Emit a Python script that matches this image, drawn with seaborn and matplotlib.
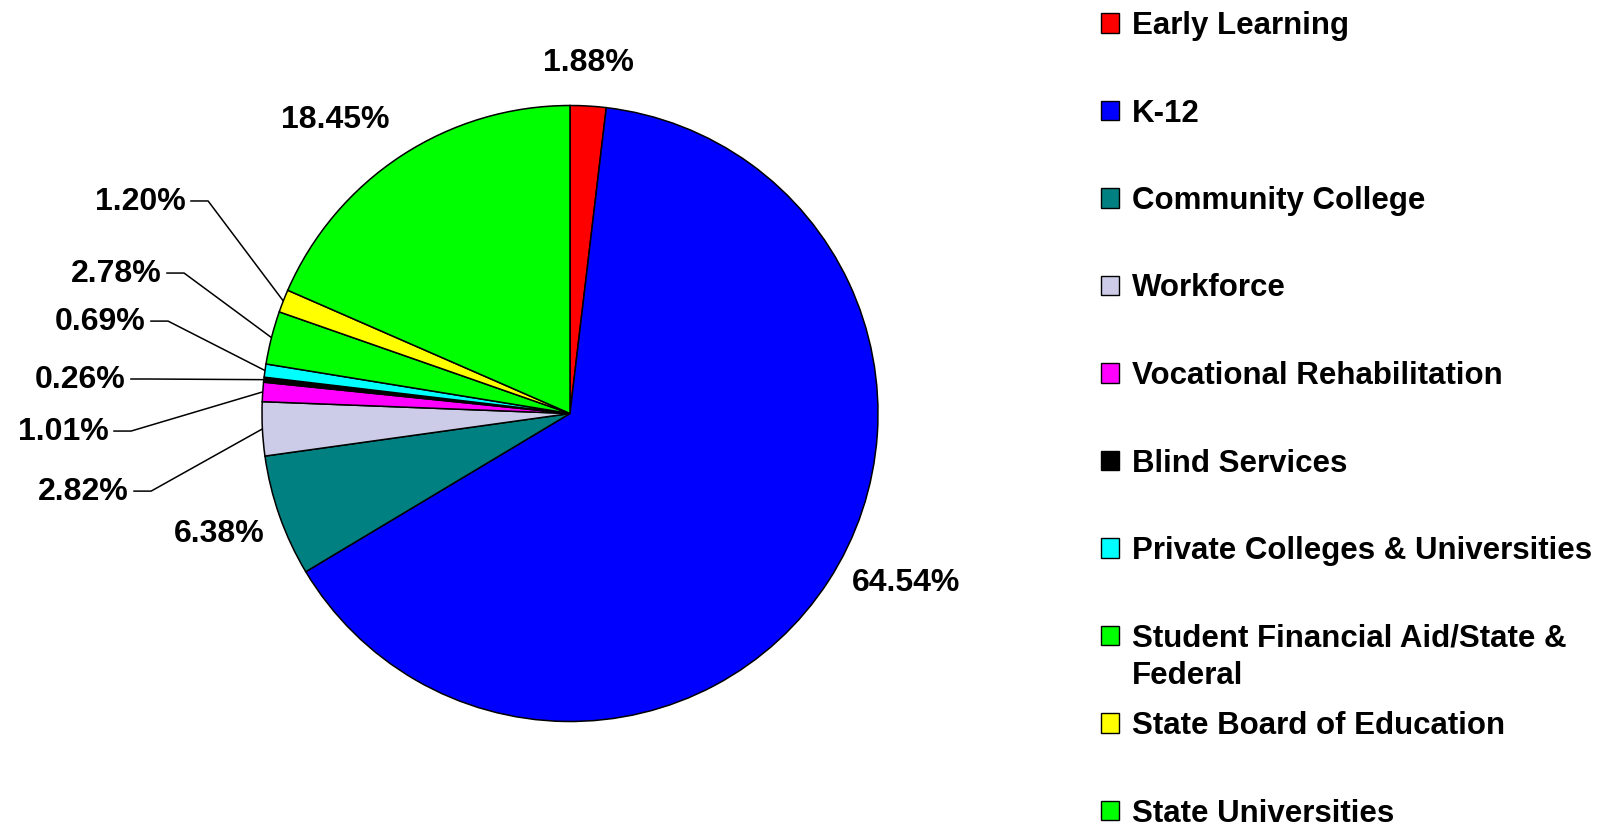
import matplotlib
matplotlib.use("Agg")
import matplotlib.pyplot as plt
import seaborn as sns
import numpy as np
from matplotlib.patches import Patch

sns.set_theme(style="white")
plt.rcParams['font.family'] = ['Liberation Sans', 'DejaVu Sans']

# ---- data ----
categories = ["Early Learning", "K-12", "Community College", "Workforce",
              "Vocational Rehabilitation", "Blind Services",
              "Private Colleges & Universities",
              "Student Financial Aid/State & Federal",
              "State Board of Education", "State Universities"]
values = [1.88, 64.54, 6.38, 2.82, 1.01, 0.26, 0.69, 2.78, 1.20, 18.45]
colors = ["#FF0000", "#0000FF", "#008080", "#CCCCE8", "#FF00FF",
          "#000000", "#00FFFF", "#00FF00", "#FFFF00", "#00FF00"]

# ---- style: label placement (data units, radius = 1) ----
plain_pos = {0: (0.060, 1.138), 1: (1.091, -0.550), 2: (-1.140, -0.391), 9: (-0.763, 0.953)}
elbow_pos = {8: (-1.175, 0.690), 7: (-1.253, 0.456), 6: (-1.305, 0.300),
             5: (-1.370, 0.112), 4: (-1.425, -0.057), 3: (-1.360, -0.252)}

W, H = 1600, 824
cx, cy, R = 570.0, 413.5, 308.0

fig = plt.figure(figsize=(W / 100, H / 100), dpi=100)
ax = fig.add_axes([0, 0, 1, 1])
wedges, _ = ax.pie(values, colors=colors, startangle=90, counterclock=False,
                   radius=1.0, wedgeprops=dict(edgecolor="black", linewidth=1.1))
ax.set_xlim(-cx / R, (W - cx) / R)
ax.set_ylim(-(H - cy) / R, cy / R)
ax.set_aspect("equal")
ax.axis("off")

lab_fs = 23
for i, v in enumerate(values):
    txt = f"{v:.2f}%"
    if i in plain_pos:
        x, y = plain_pos[i]
        ax.text(x, y, txt, ha="center", va="center", fontsize=lab_fs, fontweight="bold", color="black")
    else:
        w = wedges[i]
        ang = np.deg2rad((w.theta1 + w.theta2) / 2)
        rx, ry = np.cos(ang), np.sin(ang)
        ex, ey = elbow_pos[i]
        hx = ex - 0.058
        ax.plot([rx, ex, hx], [ry, ey, ey], color="black", lw=1.1, solid_capstyle="butt")
        ax.text(hx - 0.014, ey - 0.004, txt, ha="right", va="center",
                fontsize=lab_fs, fontweight="bold", color="black")

# ---- legend ----
leg_fs = 22.5
leg_labels = list(categories)
leg_labels[7] = "Student Financial Aid/State &"
handles = [Patch(facecolor=c, edgecolor="black", linewidth=1.0) for c in colors]
leg = fig.legend(handles, leg_labels, loc="upper left", bbox_to_anchor=(1101 / W, 1 - 11 / H),
                 frameon=False, prop=dict(weight="bold", size=leg_fs), labelcolor="black",
                 handlelength=0.58, handleheight=0.58, handletextpad=0.42,
                 labelspacing=1.84, borderaxespad=0, borderpad=0)
fig.canvas.draw()
bb = leg.get_texts()[7].get_window_extent()
fig.text(bb.x0 / W, ((bb.y0 + bb.y1) / 2 - 37) / H, "Federal", ha="left", va="center",
         fontsize=leg_fs, fontweight="bold", color="black")

fig.savefig("out.png", dpi=100, facecolor="white")
